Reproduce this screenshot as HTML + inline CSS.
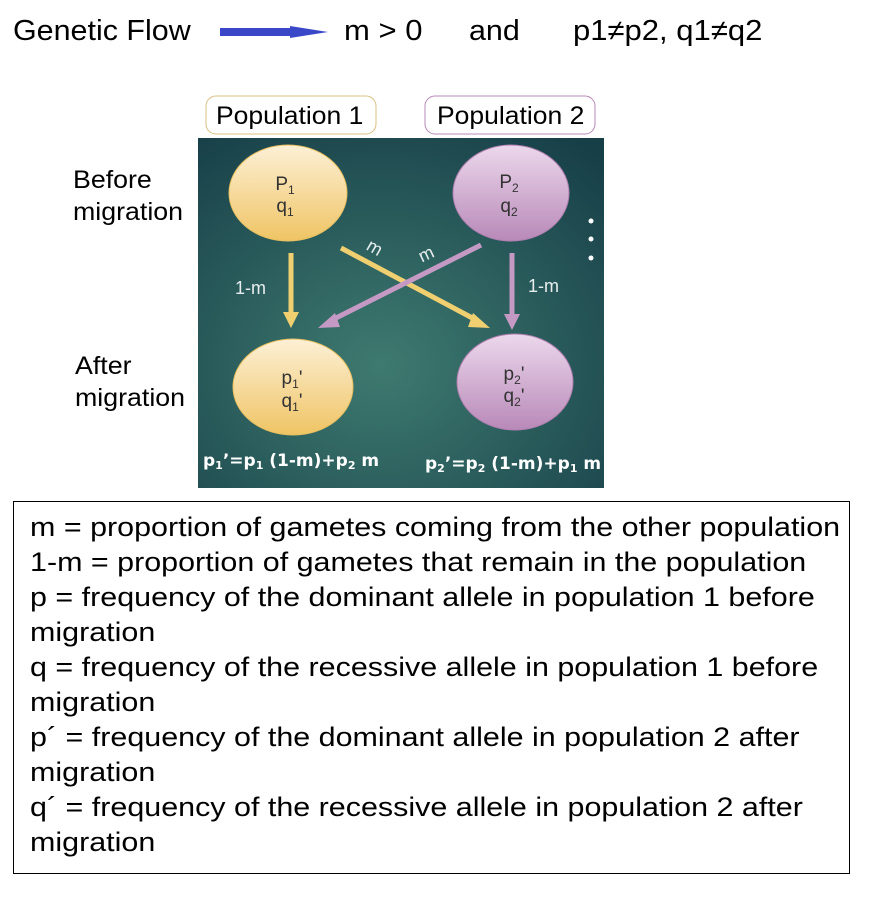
<!DOCTYPE html>
<html><head><style>
body{margin:0;width:894px;height:914px;background:#fff;font-family:"Liberation Sans",sans-serif;position:relative;overflow:hidden}
.t{position:absolute;white-space:nowrap;color:#000;transform-origin:0 0}
</style></head><body>
<div class="t" style="left:13px;top:15px;font-size:29px;transform:scaleX(1.05)">Genetic Flow</div>
<svg style="position:absolute;left:0;top:0" width="894" height="500">
<defs>
<radialGradient id="bg" cx="0.45" cy="0.65" r="0.8"><stop offset="0" stop-color="#3e7a70"/><stop offset="1" stop-color="#173f48"/></radialGradient>
<linearGradient id="y" x1="0" y1="0" x2="0" y2="1"><stop offset="0" stop-color="#fdf0d6"/><stop offset="1" stop-color="#efc464"/></linearGradient>
<linearGradient id="p" x1="0" y1="0" x2="0" y2="1"><stop offset="0" stop-color="#ecd8ec"/><stop offset="1" stop-color="#b889b8"/></linearGradient>
</defs>
<polygon points="220,28 290,28 290,26 328,32 290,38 290,36 220,36" fill="#3a48c8"/>
<rect x="198" y="138" width="406" height="350" fill="url(#bg)"/>
<rect x="206" y="96" width="170" height="38" rx="10" fill="#fff" stroke="#d8c080"/>
<rect x="425" y="96" width="170" height="38" rx="10" fill="#fff" stroke="#b888b8"/>
<ellipse cx="288" cy="193" rx="59" ry="48" fill="url(#y)" stroke="#e8c060"/>
<ellipse cx="511" cy="193" rx="58" ry="48" fill="url(#p)" stroke="#b080b0"/>
<ellipse cx="293" cy="387" rx="60" ry="48" fill="url(#y)" stroke="#e8c060"/>
<ellipse cx="515" cy="382" rx="58" ry="48" fill="url(#p)" stroke="#b080b0"/>
<g stroke-width="5" fill="none">
<line x1="291" y1="253" x2="291" y2="314" stroke="#f0cf70"/>
<line x1="512" y1="253" x2="512" y2="316" stroke="#c49ac4"/>
<line x1="341" y1="248" x2="478" y2="321" stroke="#f0cf70"/>
<line x1="481" y1="245" x2="330" y2="321" stroke="#c49ac4"/>
</g>
<polygon points="283,312 299,312 291,328" fill="#f0cf70"/>
<polygon points="504,314 520,314 512,330" fill="#c49ac4"/>
<polygon points="473,313 490,328 468,327" fill="#f0cf70"/>
<polygon points="318,328 335,313 340,327" fill="#c49ac4"/>
<circle cx="591" cy="221" r="2.5" fill="#fff"/><circle cx="591" cy="239" r="2.5" fill="#fff"/><circle cx="591" cy="258" r="2.5" fill="#fff"/>
<g font-family="Liberation Sans,sans-serif" fill="#e8eeee" font-size="18">
<text x="235" y="294">1-m</text><text x="528" y="292">1-m</text>
<text x="366" y="254" transform="rotate(30 375 250)">m</text>
<text x="418" y="259" transform="rotate(-25 428 252)">m</text>
</g>
<g font-family="Liberation Sans,sans-serif" fill="#333" font-size="19" text-anchor="middle">
<text x="285" y="190">P<tspan font-size="12" dy="4">1</tspan></text>
<text x="285" y="212">q<tspan font-size="12" dy="4">1</tspan></text>
<text x="509" y="188">P<tspan font-size="12" dy="4">2</tspan></text>
<text x="509" y="212">q<tspan font-size="12" dy="4">2</tspan></text>
<text x="292" y="384">p<tspan font-size="12" dy="4">1</tspan><tspan dy="-4">'</tspan></text>
<text x="292" y="407">q<tspan font-size="12" dy="4">1</tspan><tspan dy="-4">'</tspan></text>
<text x="514" y="380">p<tspan font-size="12" dy="4">2</tspan><tspan dy="-4">'</tspan></text>
<text x="514" y="402">q<tspan font-size="12" dy="4">2</tspan><tspan dy="-4">'</tspan></text>
</g>
<g font-family="DejaVu Sans,sans-serif" font-weight="bold" fill="#fff" font-size="17">
<text x="203" y="466">p<tspan font-size="11" dy="3">1</tspan><tspan dy="-3">’=p</tspan><tspan font-size="11" dy="3">1</tspan><tspan dy="-3"> (1-m)+p</tspan><tspan font-size="11" dy="3">2</tspan><tspan dy="-3"> m</tspan></text>
<text x="425" y="469">p<tspan font-size="11" dy="3">2</tspan><tspan dy="-3">’=p</tspan><tspan font-size="11" dy="3">2</tspan><tspan dy="-3"> (1-m)+p</tspan><tspan font-size="11" dy="3">1</tspan><tspan dy="-3"> m</tspan></text>
</g>
</svg>
<div class="t" style="left:344px;top:15px;font-size:29px;transform:scaleX(1.07)">m &gt; 0</div>
<div class="t" style="left:469px;top:15px;font-size:29px;transform:scaleX(1.05)">and</div>
<div class="t" style="left:573px;top:15px;font-size:29px;transform:scaleX(1.07)">p1≠p2, q1≠q2</div>
<div class="t" style="left:216px;top:102px;font-size:25px;transform:scaleX(1.06)">Population 1</div>
<div class="t" style="left:437px;top:102px;font-size:25px;transform:scaleX(1.06)">Population 2</div>
<div class="t" style="left:73px;top:164px;font-size:25px;line-height:32px;transform:scaleX(1.07)">Before<br>migration</div>
<div class="t" style="left:75px;top:350px;font-size:25px;line-height:32px;transform:scaleX(1.07)">After<br>migration</div>
<div style="position:absolute;left:13px;top:501px;width:837px;height:373px;border:1px solid #000;box-sizing:border-box"></div>
<div class="t" style="left:30px;top:510px;font-size:27px;line-height:35px;transform:scaleX(1.128)">
m = proportion of gametes coming from the other population<br>
1-m = proportion of gametes that remain in the population<br>
p = frequency of the dominant allele in population 1 before<br>migration<br>
q = frequency of the recessive allele in population 1 before<br>migration<br>
p´ = frequency of the dominant allele in population 2 after<br>migration<br>
q´ = frequency of the recessive allele in population 2 after<br>migration
</div>
</body></html>
